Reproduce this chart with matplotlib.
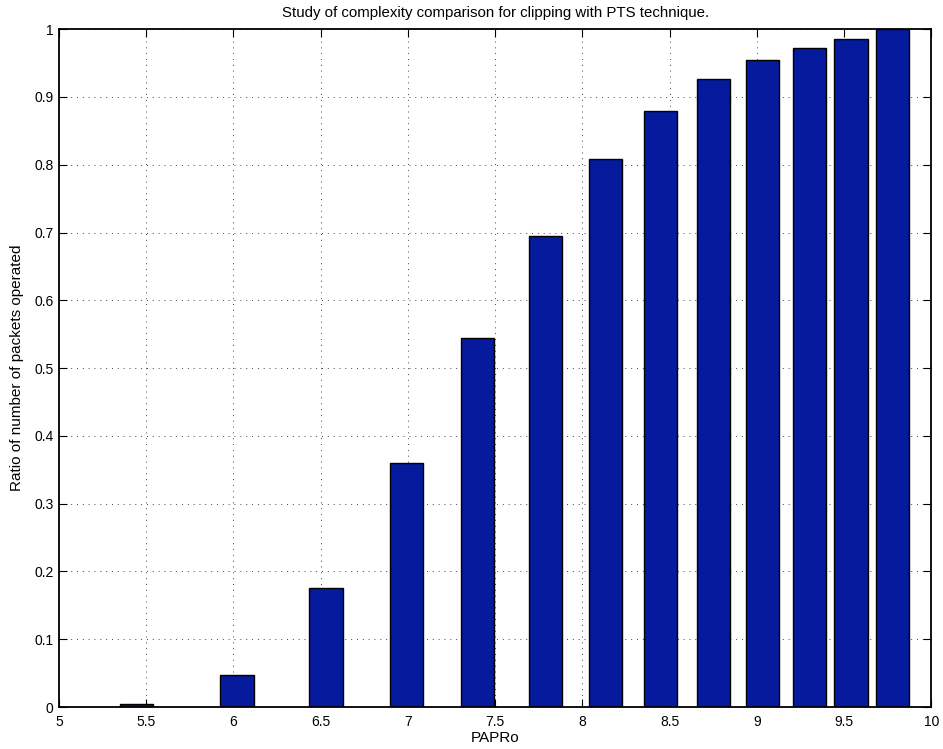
import matplotlib
matplotlib.use("Agg")
import matplotlib.pyplot as plt
import numpy as np

papro = [5.445, 6.02, 6.53, 6.99, 7.40, 7.79, 8.13, 8.45, 8.75, 9.03, 9.30, 9.54, 9.78]
ratio = [0.0044, 0.048, 0.175, 0.360, 0.545, 0.695, 0.808, 0.879, 0.926, 0.954, 0.973, 0.985, 1.0]
xticks = [5, 5.5, 6, 6.5, 7, 7.5, 8, 8.5, 9, 9.5, 10]
xticklabels = ["5", "5.5", "6", "6.5", "7", "7.5", "8", "8.5", "9", "9.5", "10"]
yticks = [0, 0.1, 0.2, 0.3, 0.4, 0.5, 0.6, 0.7, 0.8, 0.9, 1]
yticklabels = ["0", "0.1", "0.2", "0.3", "0.4", "0.5", "0.6", "0.7", "0.8", "0.9", "1"]

plt.rcParams['font.family'] = ['Liberation Sans', 'DejaVu Sans']

fig = plt.figure(figsize=(9.43, 7.49), dpi=100)
ax = fig.add_axes([0.0626, 0.056, 0.925, 0.905])

ax.bar(papro, ratio, width=0.19, color='#061a9e', edgecolor='black', linewidth=1.0, zorder=3)

ax.set_xlim(5, 10)
ax.set_ylim(0, 1)
ax.set_xticks(xticks)
ax.set_xticklabels(xticklabels)
ax.set_yticks(yticks)
ax.set_yticklabels(yticklabels)
ax.tick_params(direction='in', length=6, width=0.8, top=True, right=True, labelsize=10)
ax.tick_params(axis='x', pad=6)
ax.tick_params(axis='y', pad=4)
ax.grid(True, linestyle=(0, (1, 5)), color='#444444', linewidth=0.7, zorder=0)
for s in ax.spines.values():
    s.set_linewidth(1.3)
    s.set_zorder(5)

ax.set_title("Study of complexity comparison for clipping with PTS technique.", fontsize=10.8, pad=8.5)
ax.set_xlabel("PAPRo", fontsize=11, labelpad=1)
ax.set_ylabel("Ratio of number of packets operated", fontsize=11, labelpad=7)

fig.savefig("out.png", dpi=100)
